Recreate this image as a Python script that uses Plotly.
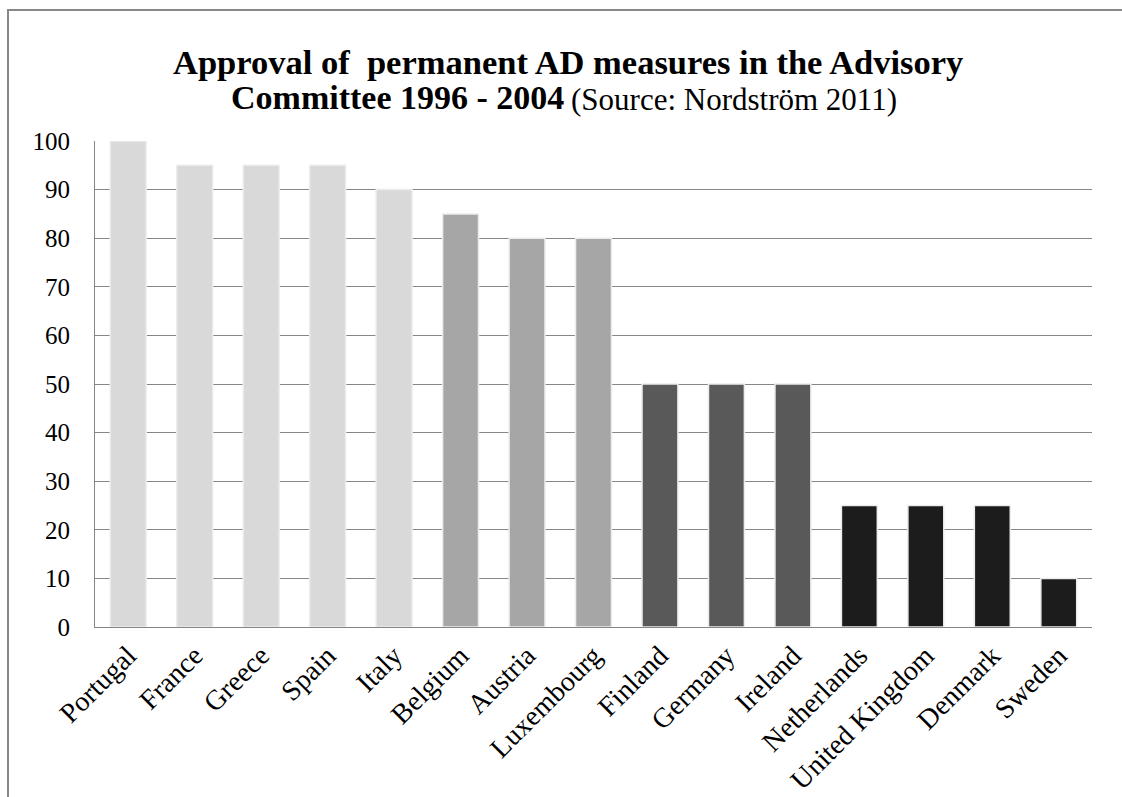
import plotly.graph_objects as go

countries = ["Portugal", "France", "Greece", "Spain", "Italy", "Belgium", "Austria",
             "Luxembourg", "Finland", "Germany", "Ireland", "Netherlands",
             "United Kingdom", "Denmark", "Sweden"]
approval = [100, 95, 95, 95, 90, 85, 80, 80, 50, 50, 50, 25, 25, 25, 10]
bar_colors = ["#d9d9d9"] * 5 + ["#a6a6a6"] * 3 + ["#595959"] * 3 + ["#1c1c1c"] * 4
y_ticks = [0, 10, 20, 30, 40, 50, 60, 70, 80, 90, 100]

title_line1 = "<b>Approval of\u00a0 permanent AD measures in the Advisory</b>"
title_line2_bold = "<b>Committee 1996 - 2004</b>"
title_line2_source = "(Source: Nordström 2011)"

W, H = 1122, 797
L, R, T, B = 95, 30, 141, 170
pw, ph = W - L - R, H - T - B
SERIF = "Liberation Serif"

fig = go.Figure(go.Bar(
    x=countries, y=approval,
    marker=dict(color=bar_colors, line=dict(color="#ececec", width=1.5)),
))

def px2paper_x(px):
    return (px - L) / pw

def px2paper_y(py):
    return (H - B - py) / ph

fig.add_shape(type="rect", xref="paper", yref="paper",
              x0=px2paper_x(8), x1=px2paper_x(W + 20),
              y0=px2paper_y(H + 20), y1=px2paper_y(10),
              line=dict(color="#888888", width=2), fillcolor="rgba(0,0,0,0)", layer="below")

fig.add_annotation(text=title_line1, xref="paper", yref="paper",
                   x=px2paper_x(568), y=px2paper_y(62), xanchor="center", yanchor="middle",
                   showarrow=False, font=dict(family=SERIF, size=34.5, color="black"))
fig.add_annotation(text=title_line2_bold, xref="paper", yref="paper",
                   x=px2paper_x(566), y=px2paper_y(98), xanchor="right", yanchor="middle",
                   showarrow=False, font=dict(family=SERIF, size=34, color="black"))
fig.add_annotation(text=title_line2_source, xref="paper", yref="paper",
                   x=px2paper_x(569), y=px2paper_y(99), xanchor="left", yanchor="middle",
                   showarrow=False, font=dict(family=SERIF, size=31, color="black"))

fig.update_layout(
    width=W, height=H,
    margin=dict(l=L, r=R, t=T, b=B, autoexpand=False),
    paper_bgcolor="white", plot_bgcolor="white",
    bargap=0.46,
    showlegend=False,
    font=dict(family=SERIF, color="black", size=22),
    xaxis=dict(
        tickangle=-45, showgrid=False, showline=True, linecolor="#868686", linewidth=1,
        tickfont=dict(family=SERIF, size=28, color="black"),
        ticks="", fixedrange=True, automargin=False,
    ),
    yaxis=dict(
        range=[0, 100], tickvals=y_ticks, showgrid=True, gridcolor="#868686", gridwidth=1,
        showline=True, linecolor="#868686", linewidth=1, zeroline=False,
        tickfont=dict(family=SERIF, size=25, color="black"),
        ticks="", ticklabelstandoff=19, automargin=False,
    ),
)

fig.write_html("out.html")
